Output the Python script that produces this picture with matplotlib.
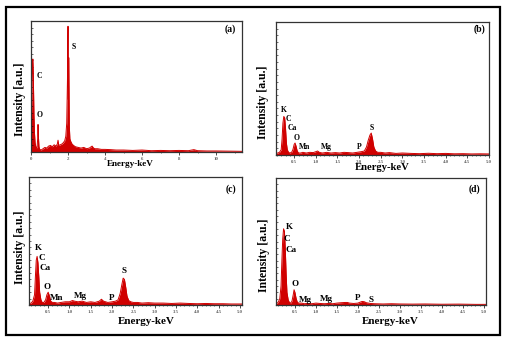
import numpy as np
import matplotlib
matplotlib.use("Agg")
import matplotlib.pyplot as plt
from matplotlib.patches import Rectangle
from matplotlib.ticker import MultipleLocator, FormatStrFormatter

a_e = [0.0,0.03,0.06,0.08,0.1,0.12,0.14,0.16,0.19,0.22,0.26,0.3,0.33,0.36,0.38,0.40,0.43,0.47,0.55,0.65,0.75,0.85,0.95,1.05,1.15,1.25,1.35,1.42,1.46,1.5,1.58,1.66,1.74,1.82,1.88,1.93,1.97,2.0,2.02,2.04,2.07,2.1,2.15,2.22,2.3,2.4,2.55,2.7,2.85,3.0,3.15,3.3,3.38,3.45,3.6,3.8,4.0,4.3,4.6,5.0,5.5,6.0,6.5,7.0,7.5,8.0,8.5,8.8,9.0,9.5,10.0,10.5,11.0,11.4]
a_i = [2,30,55,68,71,62,45,28,14,7,4,3,4,10,21,12,4,2,1.5,2.5,3.5,3,4.5,5,4,5.5,4.5,6,9,5,5.5,6,7,8.5,12,22,55,96,40,72,20,10,8,6,5,4,3.5,3,3.5,2.5,3,4.5,3,2.5,2.5,2,2,1.8,1.5,1.5,1.2,1.5,1,1.2,1,1.2,1,1.8,1,0.8,0.8,0.7,0.6,0.5]

b_e = [0.08,0.12,0.16,0.2,0.22,0.24,0.26,0.28,0.3,0.32,0.34,0.37,0.4,0.44,0.47,0.5,0.52,0.54,0.57,0.6,0.65,0.7,0.78,0.86,0.94,1.0,1.04,1.08,1.15,1.25,1.35,1.45,1.55,1.65,1.75,1.85,1.95,2.05,2.12,2.17,2.21,2.25,2.28,2.31,2.34,2.38,2.43,2.5,2.6,2.7,2.85,3.0,3.2,3.4,3.6,3.8,4.0,4.2,4.4,4.6,4.8,5.0]
b_i = [1,1.5,2,4,12,24,29,28,20,9,4,2,1.5,2,4,8,9,7,3,1.5,1.5,2,1.5,2,1.8,2.5,3,2,1.5,2,1.5,1.8,1.5,2,1.8,1.5,2,2.5,3,6,11,15,16.5,12,6,3,2,2,1.5,1.8,1.2,1.5,1.2,1,1.3,1,1.2,0.9,1,0.8,0.9,0.8]

c_e = [0.05,0.1,0.14,0.18,0.2,0.22,0.24,0.26,0.28,0.3,0.33,0.36,0.4,0.44,0.47,0.5,0.53,0.56,0.6,0.65,0.72,0.8,0.9,1.0,1.07,1.12,1.2,1.3,1.4,1.5,1.6,1.7,1.75,1.8,1.9,2.0,2.08,2.14,2.19,2.23,2.26,2.29,2.32,2.35,2.39,2.44,2.5,2.6,2.7,2.85,3.0,3.2,3.4,3.6,3.8,4.0,4.2,4.4,4.6,4.8,5.05]
c_i = [1,1.5,3,8,22,35,38,33,22,10,4,2,2,4,8,10,7,3,2,2,1.5,2,2.5,2.5,3.5,3,2.5,3,2,2.5,2,3,4.5,3,2,2.5,3,4,9,16,21,20,14,7,3.5,2.5,2,2,1.5,1.8,1.5,1.5,1.2,1.5,1.2,1,1.2,1,1,0.8,0.8]

d_e = [0.05,0.1,0.14,0.17,0.19,0.21,0.23,0.25,0.27,0.29,0.31,0.34,0.37,0.4,0.43,0.46,0.48,0.5,0.53,0.56,0.6,0.66,0.72,0.8,0.9,1.0,1.1,1.2,1.3,1.4,1.5,1.6,1.7,1.75,1.8,1.9,2.0,2.05,2.1,2.15,2.2,2.3,2.4,2.6,2.8,3.0,3.3,3.6,4.0,4.4,4.8,5.05]
d_i = [1,2,5,15,35,52,60,58,45,25,10,4,2,1.5,3,8,12,10,5,2,1.5,1.5,1,1.2,1,1.5,1.2,1,1.2,1,1.5,1.8,2,2,1.5,1.2,1.5,2.2,2.8,2.6,1.8,1.2,1,0.8,1,0.8,0.7,0.8,0.6,0.7,0.5,0.5]

panel_tags = ["(a)", "(b)", "(c)", "(d)"]
peak_labels = {
    "a": [("S", 74, 47), ("C", 39, 76), ("O", 40, 115)],
    "b": [("K", 284, 110), ("C", 288, 119), ("Ca", 292, 128), ("O", 297, 138),
          ("Mn", 305, 147), ("Mg", 326, 147), ("P", 359, 147), ("S", 372, 128)],
    "c": [("K", 38, 248), ("C", 42, 258), ("Ca", 45, 268), ("O", 47, 287),
          ("Mn", 57, 298), ("Mg", 80, 296), ("P", 112, 298), ("S", 124, 271)],
    "d": [("K", 289, 227), ("C", 287, 239), ("Ca", 291, 250), ("O", 295, 284),
          ("Mg", 305, 300), ("Mg", 326, 299), ("P", 358, 298), ("S", 371, 300)],
}

W, H = 506, 341
RED = "#d00000"
plt.rcParams['font.family'] = ['Liberation Serif', 'DejaVu Serif']
plt.rcParams['font.weight'] = 'bold'

fig = plt.figure(figsize=(W/100, H/100), dpi=100)
fig.patch.set_facecolor("white")
fig.add_artist(Rectangle((6/W, 1-335/H), 494/W, 328/H, transform=fig.transFigure,
                         fill=False, ec="black", lw=1.6))

def ax_at(l, t, r, b):
    return fig.add_axes([l/W, 1-b/H, (r-l)/W, (b-t)/H])

def ftext(x, y, s, size, **kw):
    fig.text(x/W, 1-y/H, s, fontsize=size, fontweight="bold", ha="center", va="center", **kw)

specs = [
    ("a", (31, 21, 242, 152), a_e, a_i, (0, 11.4), 2, 1, "%d", 5.5, 6.6, (130, 164), (20, 99), (230, 29)),
    ("b", (276, 22, 489, 155), b_e, b_i, (0.08, 5.0), 0.5, 0.1, "%.1f", 5.5, 7.7, (382, 168), (263, 102), (480, 29)),
    ("c", (29, 177, 242, 305), c_e, c_i, (0.05, 5.05), 0.5, 0.1, "%.1f", 6.5, 7.9, (146, 321), (20, 247), (231, 189)),
    ("d", (276, 178, 486, 305), d_e, d_i, (0.05, 5.05), 0.5, 0.1, "%.1f", 6.5, 7.9, (390, 321), (264, 255), (474, 189)),
]

for key, box, e, inten, xl, major, minor, fmt, lsize, xsize, xlab, ylab, tag in specs:
    ax = ax_at(*box)
    ax.plot(e, inten, color=RED, lw=0.7)
    ax.fill_between(e, 0, inten, color=RED, lw=0)
    ax.set_xlim(*xl)
    ax.set_ylim(0, 100)
    ax.xaxis.set_major_locator(MultipleLocator(major))
    ax.xaxis.set_minor_locator(MultipleLocator(minor))
    ax.xaxis.set_major_formatter(FormatStrFormatter(fmt))
    ax.yaxis.set_major_locator(MultipleLocator(20))
    ax.yaxis.set_minor_locator(MultipleLocator(5))
    ax.tick_params(axis="x", which="major", length=2, width=0.5, pad=1.5,
                   labelsize=3.5, labelcolor="#666666", direction="out")
    ax.tick_params(axis="x", which="minor", length=1, width=0.4, direction="out")
    ax.tick_params(axis="y", which="both", length=1.2, width=0.4, direction="in", labelleft=False)
    for sp in ax.spines.values():
        sp.set_linewidth(0.9)
        sp.set_color("#333333")
    ftext(*xlab, "Energy-keV", xsize)
    ftext(*ylab, "Intensity [a.u.]", 8.5, rotation=90)
    ftext(*tag, panel_tags["abcd".index(key)], 7)
    for s, x, y in peak_labels[key]:
        ftext(x, y, s, lsize)

plt.savefig("out.png", dpi=100)
